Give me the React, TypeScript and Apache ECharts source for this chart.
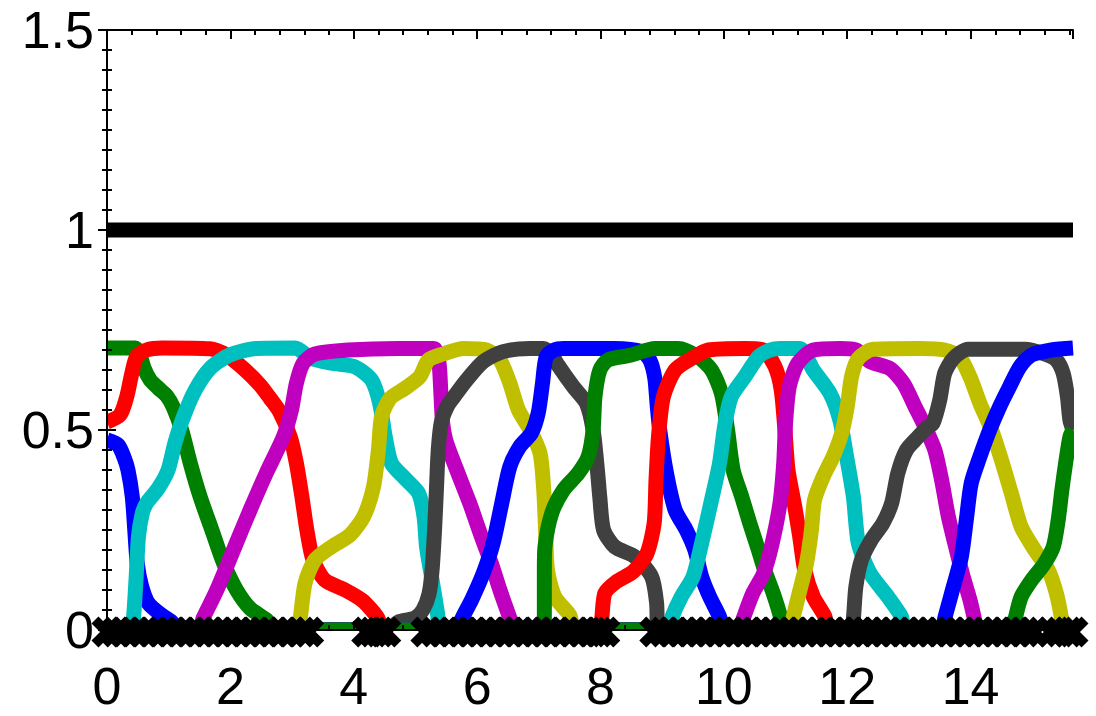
import React, { useEffect, useRef } from "react";
import * as echarts from "echarts";

const X_MAX = 15.66;
const xTickLabels = [0, 2, 4, 6, 8, 10, 12, 14];
const yTickLabels = [0, 0.5, 1, 1.5];

const BLUE = "#0000ff";
const GREEN = "#008000";
const RED = "#ff0000";
const CYAN = "#00bfbf";
const MAGENTA = "#bf00bf";
const YELLOW = "#bfbf00";
const GRAY = "#404040";

const refLine = [[0, 1], [15.66, 1]];

const blue1 = [[0, 0.475], [0.18, 0.4625], [0.28, 0.43], [0.34, 0.4], [0.41, 0.333], [0.45, 0.25], [0.49, 0.167], [0.56, 0.11], [0.67, 0.067], [0.89, 0.037], [1.05, 0.02], [1.15, 0], [15.66, 0]];
const green1 = [[0, 0.705], [0.46, 0.705], [0.53, 0.69], [0.6, 0.655], [0.7, 0.625], [0.83, 0.605], [0.97, 0.585], [1.08, 0.555], [1.21, 0.5], [1.35, 0.417], [1.51, 0.333], [1.7, 0.25], [1.89, 0.167], [2.1, 0.1], [2.32, 0.054], [2.59, 0.025], [2.75, 0], [15.66, 0]];
const red1 = [[0, 0.52], [0.21, 0.5375], [0.32, 0.583], [0.4, 0.64], [0.48, 0.683], [0.64, 0.7], [0.9, 0.705], [1.67, 0.703], [1.94, 0.687], [2.21, 0.654], [2.48, 0.6125], [2.64, 0.58], [2.8, 0.545], [2.97, 0.483], [3.07, 0.417], [3.16, 0.333], [3.24, 0.25], [3.34, 0.175], [3.53, 0.125], [3.86, 0.1], [4.13, 0.075], [4.29, 0.05], [4.4, 0.027], [4.46, 0], [15.66, 0]];
const cyan1 = [[0, 0], [0.4, 0], [0.43, 0.03], [0.47, 0.125], [0.51, 0.233], [0.57, 0.29], [0.64, 0.317], [0.83, 0.354], [0.99, 0.4], [1.1, 0.467], [1.24, 0.533], [1.43, 0.6], [1.67, 0.654], [1.99, 0.6875], [2.43, 0.704], [3.05, 0.705], [3.3, 0.68], [3.64, 0.667], [4.02, 0.658], [4.29, 0.625], [4.42, 0.567], [4.51, 0.483], [4.61, 0.417], [4.83, 0.379], [5.05, 0.342], [5.14, 0.283], [5.18, 0.208], [5.27, 0.125], [5.36, 0.04], [5.4, 0], [15.66, 0]];
const magenta1 = [[0, 0], [1.48, 0], [1.56, 0.03], [1.78, 0.1], [2.05, 0.2], [2.32, 0.3], [2.59, 0.395], [2.86, 0.483], [2.99, 0.55], [3.07, 0.617], [3.18, 0.667], [3.37, 0.69], [3.91, 0.7], [4.72, 0.704], [5.3, 0.704], [5.38, 0.67], [5.41, 0.6], [5.44, 0.52], [5.5, 0.47], [5.67, 0.4], [5.88, 0.317], [6.07, 0.233], [6.23, 0.167], [6.37, 0.1], [6.53, 0.03], [6.6, 0], [15.66, 0]];
const yellow1 = [[0, 0], [3.08, 0], [3.13, 0.027], [3.21, 0.117], [3.37, 0.175], [3.64, 0.208], [3.94, 0.2375], [4.16, 0.283], [4.32, 0.358], [4.4, 0.45], [4.45, 0.533], [4.59, 0.579], [4.83, 0.604], [5.07, 0.633], [5.21, 0.675], [5.45, 0.69], [5.78, 0.704], [6.15, 0.7], [6.37, 0.675], [6.53, 0.617], [6.67, 0.55], [6.86, 0.5], [7.02, 0.442], [7.08, 0.35], [7.11, 0.25], [7.14, 0.15], [7.26, 0.083], [7.5, 0.0375], [7.6, 0], [15.66, 0]];
const gray1 = [[0, 0], [4.55, 0], [4.72, 0.02], [4.99, 0.03], [5.12, 0.05], [5.22, 0.09], [5.27, 0.15], [5.31, 0.25], [5.34, 0.35], [5.37, 0.45], [5.42, 0.52], [5.52, 0.56], [5.61, 0.58], [5.83, 0.625], [6.1, 0.671], [6.42, 0.696], [6.86, 0.704], [7.07, 0.704], [7.2, 0.69], [7.31, 0.6625], [7.56, 0.608], [7.77, 0.567], [7.88, 0.5], [7.95, 0.4], [7.99, 0.33], [8.05, 0.25], [8.23, 0.208], [8.56, 0.183], [8.83, 0.133], [8.91, 0.067], [8.93, 0], [15.66, 0]];
const blue2 = [[0, 0], [5.7, 0], [5.75, 0.027], [5.91, 0.075], [6.1, 0.142], [6.26, 0.217], [6.4, 0.317], [6.53, 0.408], [6.69, 0.458], [6.88, 0.492], [6.99, 0.542], [7.06, 0.617], [7.12, 0.683], [7.25, 0.7], [7.4, 0.704], [8.23, 0.704], [8.67, 0.696], [8.8, 0.675], [8.88, 0.63], [8.92, 0.56], [8.96, 0.5], [9.07, 0.392], [9.21, 0.3], [9.39, 0.25], [9.53, 0.2], [9.64, 0.133], [9.77, 0.083], [9.93, 0.033], [10.0, 0], [15.66, 0]];
const green2 = [[0, 0], [7.08, 0], [7.09, 0.05], [7.09, 0.15], [7.1, 0.208], [7.21, 0.292], [7.4, 0.35], [7.64, 0.392], [7.8, 0.433], [7.88, 0.5], [7.91, 0.583], [7.99, 0.65], [8.12, 0.675], [8.5, 0.6875], [8.88, 0.704], [9.26, 0.704], [9.58, 0.683], [9.8, 0.65], [9.96, 0.592], [10.06, 0.5], [10.15, 0.4], [10.29, 0.333], [10.42, 0.267], [10.56, 0.2], [10.66, 0.15], [10.8, 0.092], [10.91, 0.0375], [10.96, 0], [15.66, 0]];
const red2 = [[0, 0], [7.97, 0], [8.02, 0.029], [8.07, 0.092], [8.26, 0.121], [8.53, 0.146], [8.75, 0.19], [8.87, 0.267], [8.9, 0.375], [8.94, 0.483], [9.02, 0.583], [9.21, 0.65], [9.48, 0.679], [9.75, 0.7], [10.34, 0.704], [10.64, 0.7], [10.83, 0.658], [10.93, 0.6], [10.99, 0.5], [11.04, 0.4], [11.15, 0.308], [11.23, 0.233], [11.31, 0.15], [11.45, 0.083], [11.64, 0.033], [11.7, 0], [15.66, 0]];
const cyan2 = [[0, 0], [9.1, 0], [9.15, 0.029], [9.31, 0.083], [9.5, 0.133], [9.64, 0.217], [9.8, 0.325], [9.93, 0.417], [10.02, 0.517], [10.12, 0.583], [10.34, 0.633], [10.56, 0.683], [10.75, 0.7], [10.91, 0.704], [11.23, 0.704], [11.45, 0.65], [11.72, 0.592], [11.88, 0.525], [11.99, 0.433], [12.1, 0.333], [12.18, 0.217], [12.37, 0.142], [12.66, 0.083], [12.88, 0.033], [12.95, 0], [15.66, 0]];
const magenta2 = [[0, 0], [10.25, 0], [10.31, 0.027], [10.47, 0.092], [10.64, 0.14], [10.77, 0.208], [10.91, 0.317], [10.97, 0.417], [11.0, 0.517], [11.06, 0.608], [11.2, 0.667], [11.45, 0.7], [11.88, 0.704], [12.15, 0.7], [12.37, 0.671], [12.69, 0.654], [12.91, 0.617], [13.1, 0.558], [13.26, 0.508], [13.42, 0.45], [13.53, 0.375], [13.64, 0.283], [13.77, 0.2], [13.88, 0.133], [13.99, 0.075], [14.06, 0.029], [14.1, 0], [15.66, 0]];
const yellow2 = [[0, 0], [11.08, 0], [11.12, 0.029], [11.22, 0.092], [11.34, 0.167], [11.42, 0.25], [11.47, 0.325], [11.61, 0.383], [11.77, 0.433], [11.91, 0.492], [12.0, 0.558], [12.07, 0.633], [12.18, 0.679], [12.42, 0.702], [13.18, 0.704], [13.58, 0.7], [13.82, 0.683], [13.99, 0.633], [14.15, 0.567], [14.34, 0.5], [14.5, 0.425], [14.66, 0.342], [14.82, 0.258], [15.04, 0.2], [15.26, 0.15], [15.39, 0.092], [15.47, 0.033], [15.5, 0], [15.66, 0]];
const gray2 = [[0, 0], [12.07, 0], [12.1, 0.029], [12.14, 0.108], [12.23, 0.175], [12.39, 0.225], [12.58, 0.267], [12.72, 0.317], [12.82, 0.392], [12.96, 0.45], [13.15, 0.483], [13.28, 0.504], [13.39, 0.517], [13.5, 0.575], [13.58, 0.642], [13.72, 0.679], [13.96, 0.702], [14.88, 0.702], [15.2, 0.69], [15.39, 0.675], [15.5, 0.642], [15.57, 0.583], [15.61, 0.525], [15.66, 0.5]];
const blue3 = [[0, 0], [13.54, 0], [13.58, 0.029], [13.72, 0.108], [13.85, 0.183], [13.93, 0.275], [14.01, 0.367], [14.15, 0.433], [14.31, 0.5], [14.47, 0.558], [14.63, 0.608], [14.8, 0.658], [14.99, 0.6875], [15.31, 0.7], [15.66, 0.705]];
const green3 = [[0, 0], [14.68, 0], [14.72, 0.027], [14.82, 0.083], [14.99, 0.125], [15.18, 0.1625], [15.34, 0.208], [15.42, 0.275], [15.48, 0.35], [15.54, 0.417], [15.61, 0.483], [15.66, 0.5]];

const markerX = [
  0, 0.15, 0.3, 0.45, 0.6, 0.75, 0.9, 1.05, 1.2, 1.35, 1.5, 1.65, 1.8, 1.95, 2.1, 2.25, 2.4, 2.55, 2.7, 2.85, 3.0, 3.15, 3.27,
  4.21, 4.32, 4.42, 4.52,
  5.17, 5.32, 5.47, 5.62, 5.77, 5.92, 6.07, 6.22, 6.37, 6.52, 6.67, 6.82, 6.97, 7.12, 7.27, 7.42, 7.57, 7.72, 7.87, 7.97, 8.07,
  8.88, 9.03, 9.18, 9.33, 9.48, 9.63, 9.78, 9.93, 10.08, 10.23, 10.38, 10.53, 10.68, 10.83, 10.98, 11.13, 11.28, 11.43,
  11.58, 11.73, 11.88, 12.03, 12.18, 12.33, 12.48, 12.63, 12.78, 12.93, 13.08, 13.23, 13.38, 13.53, 13.68, 13.83, 13.98,
  14.13, 14.28, 14.43, 14.58, 14.73, 14.88, 15.03, 15.3, 15.45, 15.58, 15.66,
];

const curves = [
  { color: BLUE, data: blue1 },
  { color: GREEN, data: green1 },
  { color: RED, data: red1 },
  { color: CYAN, data: cyan1 },
  { color: MAGENTA, data: magenta1 },
  { color: YELLOW, data: yellow1 },
  { color: GRAY, data: gray1 },
  { color: BLUE, data: blue2 },
  { color: GREEN, data: green2 },
  { color: RED, data: red2 },
  { color: CYAN, data: cyan2 },
  { color: MAGENTA, data: magenta2 },
  { color: YELLOW, data: yellow2 },
  { color: GRAY, data: gray2 },
  { color: BLUE, data: blue3 },
  { color: GREEN, data: green3 },
];

const FONT = "'Liberation Sans', Arial, Helvetica, sans-serif";
const FS = 52;

export default function App() {
  const ref = useRef<HTMLDivElement>(null);
  useEffect(() => {
    if (!ref.current) return;
    const chart = echarts.init(ref.current, null, { renderer: "svg" });
    const L = 107, T = 30, R = 23, B = 86;
    const W = 1096, H = 716;
    const axisLine = { show: true, lineStyle: { color: "#000", width: 2 } };
    const xMajorCommon = {
      type: "value", min: 0, max: X_MAX, interval: 2, gridIndex: 0,
      splitLine: { show: false }, z: 30,
      axisLine, axisTick: { show: true, inside: true, length: 9, lineStyle: { color: "#000", width: 2 } },
    };
    const xMinorCommon = {
      type: "value", min: 0, max: X_MAX, interval: 0.4, gridIndex: 0,
      splitLine: { show: false }, z: 30,
      axisLine: { show: false }, axisLabel: { show: false },
      axisTick: { show: true, inside: true, length: 5, lineStyle: { color: "#000", width: 2 } },
    };
    const yCommon = {
      type: "value", min: 0, max: 1.5, interval: 0.5, gridIndex: 0,
      splitLine: { show: false }, z: 30, axisLine,
      axisTick: { show: true, inside: true, length: 9, lineStyle: { color: "#000", width: 2 } },
      minorTick: { show: true, splitNumber: 10, length: 5, lineStyle: { color: "#000", width: 2 } },
    };
    const option: any = {
      animation: false,
      backgroundColor: "#fff",
      grid: { left: L, right: R, top: T, bottom: B, containLabel: false, outerBoundsMode: "none" },
      xAxis: [
        {
          ...xMajorCommon, position: "bottom",
          axisLabel: {
            show: true, showMaxLabel: false, margin: 30, color: "#000", fontSize: FS, fontFamily: FONT,
            formatter: (v: number) => (xTickLabels.indexOf(v) >= 0 ? String(v) : ""),
          },
        },
        { ...xMinorCommon, position: "bottom" },
        { ...xMajorCommon, position: "top", axisLabel: { show: false } },
        { ...xMinorCommon, position: "top" },
      ],
      yAxis: [
        {
          ...yCommon, position: "left",
          axisLabel: {
            show: true, margin: 13, color: "#000", fontSize: FS, fontFamily: FONT,
            formatter: (v: number) => (yTickLabels.indexOf(v) >= 0 ? String(v) : ""),
          },
        },
        { ...yCommon, position: "right", axisLabel: { show: false } },
      ],
      graphic: [
        { type: "rect", z: 10, shape: { x: L - 12, y: H - B + 1, width: W - L - R + 24, height: 14 }, style: { fill: "#fff" } },
        { type: "rect", z: 10, shape: { x: W - R + 1, y: T - 10, width: 12, height: H - T - B + 10 }, style: { fill: "#fff" } },
        { type: "rect", z: 10, shape: { x: L - 12, y: T - 10, width: 11, height: H - T - B + 10 }, style: { fill: "#fff" } },
      ],
      series: [
        {
          type: "line", data: refLine, symbol: "none", z: 2,
          lineStyle: { color: "#000", width: 15, cap: "butt" },
        },
        ...curves.map((c) => ({
          type: "line", data: c.data, symbol: "none", smooth: 0.25, z: 2,
          lineStyle: { color: c.color, width: 15, cap: "butt", join: "round" },
        })),
        {
          type: "scatter", z: 20, clip: false,
          data: markerX.map((x) => [x, 0]),
          symbol: "path://M0,4.5L4.5,0L10,5.5L15.5,0L20,4.5L14.5,10L20,15.5L15.5,20L10,14.5L4.5,20L0,15.5L5.5,10Z",
          symbolSize: 31,
          symbolOffset: [0, 2],
          itemStyle: { color: "#000", opacity: 1 },
        },
      ],
    };
    chart.setOption(option);
    return () => chart.dispose();
  }, []);
  return (
    <div
      ref={ref}
      style={{ position: "fixed", left: 0, top: 0, width: 1096, height: 716, background: "#fff" }}
    />
  );
}
